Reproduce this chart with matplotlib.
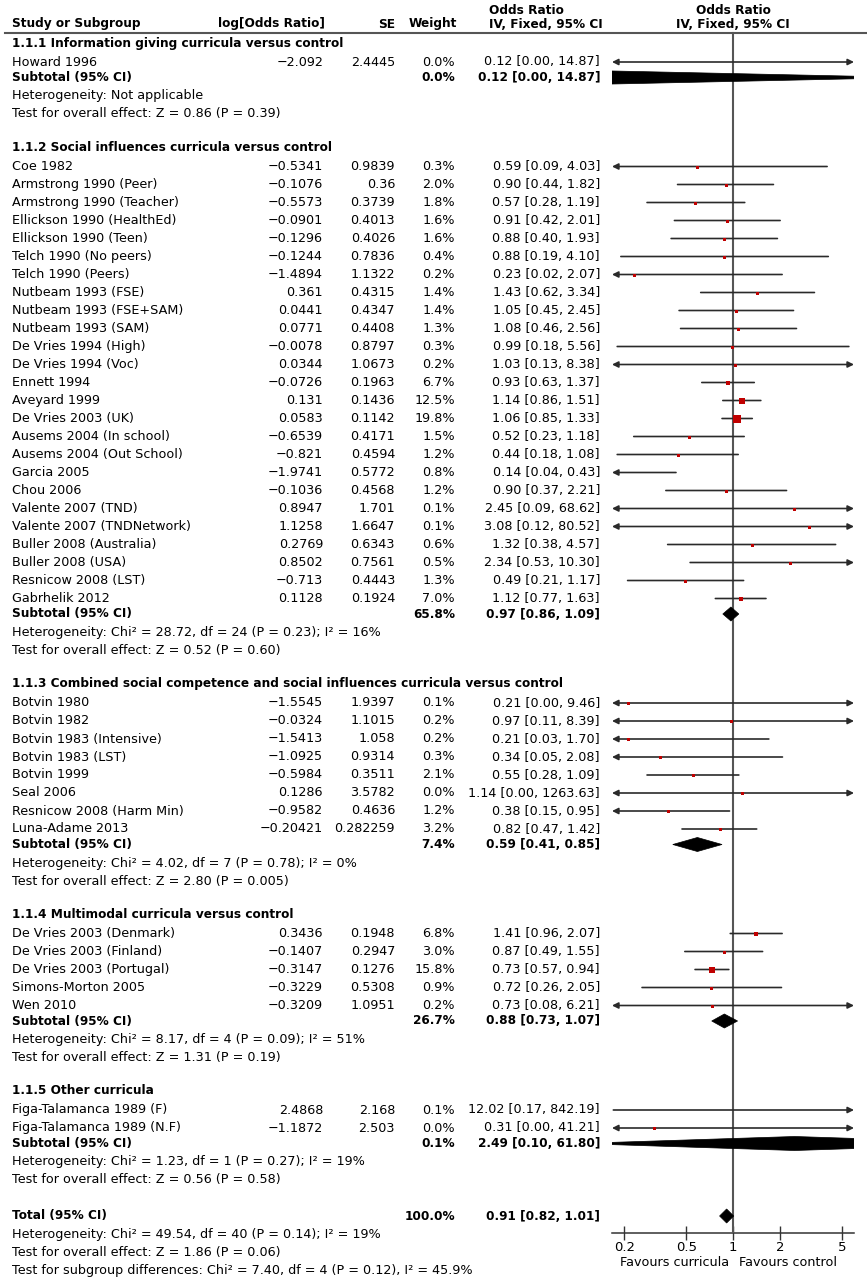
import matplotlib.pyplot as plt
from matplotlib.patches import Polygon

# ---- data ----
group_titles = [
    "1.1.1 Information giving curricula versus control",
    "1.1.2 Social influences curricula versus control",
    "1.1.3 Combined social competence and social influences curricula versus control",
    "1.1.4 Multimodal curricula versus control",
    "1.1.5 Other curricula",
]

g1_names = ["Howard 1996"]
g1_logor = ["\u22122.092"]
g1_se = ["2.4445"]
g1_weight = [0.0]
g1_or = [0.12]
g1_lo = [0.00]
g1_hi = [14.87]

g2_names = ["Coe 1982", "Armstrong 1990 (Peer)", "Armstrong 1990 (Teacher)",
            "Ellickson 1990 (HealthEd)", "Ellickson 1990 (Teen)", "Telch 1990 (No peers)",
            "Telch 1990 (Peers)", "Nutbeam 1993 (FSE)", "Nutbeam 1993 (FSE+SAM)",
            "Nutbeam 1993 (SAM)", "De Vries 1994 (High)", "De Vries 1994 (Voc)",
            "Ennett 1994", "Aveyard 1999", "De Vries 2003 (UK)", "Ausems 2004 (In school)",
            "Ausems 2004 (Out School)", "Garcia 2005", "Chou 2006", "Valente 2007 (TND)",
            "Valente 2007 (TNDNetwork)", "Buller 2008 (Australia)", "Buller 2008 (USA)",
            "Resnicow 2008 (LST)", "Gabrhelik 2012"]
g2_logor = ["\u22120.5341", "\u22120.1076", "\u22120.5573", "\u22120.0901", "\u22120.1296",
            "\u22120.1244", "\u22121.4894", "0.361", "0.0441", "0.0771", "\u22120.0078",
            "0.0344", "\u22120.0726", "0.131", "0.0583", "\u22120.6539", "\u22120.821",
            "\u22121.9741", "\u22120.1036", "0.8947", "1.1258", "0.2769", "0.8502",
            "\u22120.713", "0.1128"]
g2_se = ["0.9839", "0.36", "0.3739", "0.4013", "0.4026", "0.7836", "1.1322", "0.4315",
         "0.4347", "0.4408", "0.8797", "1.0673", "0.1963", "0.1436", "0.1142", "0.4171",
         "0.4594", "0.5772", "0.4568", "1.701", "1.6647", "0.6343", "0.7561", "0.4443",
         "0.1924"]
g2_weight = [0.3, 2.0, 1.8, 1.6, 1.6, 0.4, 0.2, 1.4, 1.4, 1.3, 0.3, 0.2, 6.7, 12.5, 19.8,
             1.5, 1.2, 0.8, 1.2, 0.1, 0.1, 0.6, 0.5, 1.3, 7.0]
g2_or = [0.59, 0.90, 0.57, 0.91, 0.88, 0.88, 0.23, 1.43, 1.05, 1.08, 0.99, 1.03, 0.93, 1.14,
         1.06, 0.52, 0.44, 0.14, 0.90, 2.45, 3.08, 1.32, 2.34, 0.49, 1.12]
g2_lo = [0.09, 0.44, 0.28, 0.42, 0.40, 0.19, 0.02, 0.62, 0.45, 0.46, 0.18, 0.13, 0.63, 0.86,
         0.85, 0.23, 0.18, 0.04, 0.37, 0.09, 0.12, 0.38, 0.53, 0.21, 0.77]
g2_hi = [4.03, 1.82, 1.19, 2.01, 1.93, 4.10, 2.07, 3.34, 2.45, 2.56, 5.56, 8.38, 1.37, 1.51,
         1.33, 1.18, 1.08, 0.43, 2.21, 68.62, 80.52, 4.57, 10.30, 1.17, 1.63]

g3_names = ["Botvin 1980", "Botvin 1982", "Botvin 1983 (Intensive)", "Botvin 1983 (LST)",
            "Botvin 1999", "Seal 2006", "Resnicow 2008 (Harm Min)", "Luna-Adame 2013"]
g3_logor = ["\u22121.5545", "\u22120.0324", "\u22121.5413", "\u22121.0925", "\u22120.5984",
            "0.1286", "\u22120.9582", "\u22120.20421"]
g3_se = ["1.9397", "1.1015", "1.058", "0.9314", "0.3511", "3.5782", "0.4636", "0.282259"]
g3_weight = [0.1, 0.2, 0.2, 0.3, 2.1, 0.0, 1.2, 3.2]
g3_or = [0.21, 0.97, 0.21, 0.34, 0.55, 1.14, 0.38, 0.82]
g3_lo = [0.00, 0.11, 0.03, 0.05, 0.28, 0.00, 0.15, 0.47]
g3_hi = [9.46, 8.39, 1.70, 2.08, 1.09, 1263.63, 0.95, 1.42]

g4_names = ["De Vries 2003 (Denmark)", "De Vries 2003 (Finland)", "De Vries 2003 (Portugal)",
            "Simons-Morton 2005", "Wen 2010"]
g4_logor = ["0.3436", "\u22120.1407", "\u22120.3147", "\u22120.3229", "\u22120.3209"]
g4_se = ["0.1948", "0.2947", "0.1276", "0.5308", "1.0951"]
g4_weight = [6.8, 3.0, 15.8, 0.9, 0.2]
g4_or = [1.41, 0.87, 0.73, 0.72, 0.73]
g4_lo = [0.96, 0.49, 0.57, 0.26, 0.08]
g4_hi = [2.07, 1.55, 0.94, 2.05, 6.21]

g5_names = ["Figa-Talamanca 1989 (F)", "Figa-Talamanca 1989 (N.F)"]
g5_logor = ["2.4868", "\u22121.1872"]
g5_se = ["2.168", "2.503"]
g5_weight = [0.1, 0.0]
g5_or = [12.02, 0.31]
g5_lo = [0.17, 0.00]
g5_hi = [842.19, 41.21]

sub_weight = [0.0, 65.8, 7.4, 26.7, 0.1]
sub_or = [0.12, 0.97, 0.59, 0.88, 2.49]
sub_lo = [0.00, 0.86, 0.41, 0.73, 0.10]
sub_hi = [14.87, 1.09, 0.85, 1.07, 61.80]
sub_het = [
    "Heterogeneity: Not applicable",
    "Heterogeneity: Chi\u00b2 = 28.72, df = 24 (P = 0.23); I\u00b2 = 16%",
    "Heterogeneity: Chi\u00b2 = 4.02, df = 7 (P = 0.78); I\u00b2 = 0%",
    "Heterogeneity: Chi\u00b2 = 8.17, df = 4 (P = 0.09); I\u00b2 = 51%",
    "Heterogeneity: Chi\u00b2 = 1.23, df = 1 (P = 0.27); I\u00b2 = 19%",
]
sub_test = [
    "Test for overall effect: Z = 0.86 (P = 0.39)",
    "Test for overall effect: Z = 0.52 (P = 0.60)",
    "Test for overall effect: Z = 2.80 (P = 0.005)",
    "Test for overall effect: Z = 1.31 (P = 0.19)",
    "Test for overall effect: Z = 0.56 (P = 0.58)",
]

total_weight = 100.0
total_or = 0.91
total_lo = 0.82
total_hi = 1.01
total_notes = [
    "Heterogeneity: Chi\u00b2 = 49.54, df = 40 (P = 0.14); I\u00b2 = 19%",
    "Test for overall effect: Z = 1.86 (P = 0.06)",
    "Test for subgroup differences: Chi\u00b2 = 7.40, df = 4 (P = 0.12), I\u00b2 = 45.9%",
]

xticks = [0.2, 0.5, 1, 2, 5]
xtick_labels = ["0.2", "0.5", "1", "2", "5"]

groups = [
    (g1_names, g1_logor, g1_se, g1_weight, g1_or, g1_lo, g1_hi),
    (g2_names, g2_logor, g2_se, g2_weight, g2_or, g2_lo, g2_hi),
    (g3_names, g3_logor, g3_se, g3_weight, g3_or, g3_lo, g3_hi),
    (g4_names, g4_logor, g4_se, g4_weight, g4_or, g4_lo, g4_hi),
    (g5_names, g5_logor, g5_se, g5_weight, g5_or, g5_lo, g5_hi),
]

# ---- layout / style ----
W, H = 867, 1280
FS = 9.2
FSB = 8.7
XMIN, XMAX = 1 / 6, 6
X_NAME, X_LOG, X_SE, X_W, X_CI = 12, 323, 395, 455, 600
LINE_C = "#2a2a2a"
SQ_C = "#c00000"

plt.rcParams['font.family'] = ['DejaVu Sans']

fig = plt.figure(figsize=(W / 100, H / 100), dpi=100)
tax = fig.add_axes([0, 0, 1, 1])
tax.set_xlim(0, W)
tax.set_ylim(H, 0)
tax.axis('off')

axis_y = 1233
fax = fig.add_axes([612 / W, (H - axis_y) / H, 242 / W, axis_y / H])
fax.set_xscale('log')
fax.set_xlim(XMIN, XMAX)
fax.set_ylim(axis_y, 0)
fax.patch.set_alpha(0)
for s in ['top', 'left', 'right']:
    fax.spines[s].set_visible(False)
fax.spines['bottom'].set_color('#333333')
fax.spines['bottom'].set_linewidth(1.1)
fax.set_xticks(xticks)
fax.set_xticklabels(xtick_labels, fontsize=9.5)
fax.minorticks_off()
fax.tick_params(axis='x', direction='inout', length=10, width=1, color='#333333', pad=1)
fax.set_yticks([])


def txt(x, y, s, ha='left', bold=False):
    tax.text(x, y, s, ha=ha, va='center', fontsize=FSB if bold else FS,
             fontweight='bold' if bold else 'normal', color='black')


def ci_str(o, lo, hi):
    return "%.2f [%.2f, %.2f]" % (o, lo, hi)


def study_line(y, o, lo, hi, w):
    x0 = max(lo, XMIN)
    x1 = min(hi, XMAX)
    left = lo < XMIN
    right = hi > XMAX
    style = {(True, True): '<|-|>', (True, False): '<|-',
             (False, True): '-|>', (False, False): '-'}[(left, right)]
    fax.annotate('', xy=(x1, y), xytext=(x0, y), annotation_clip=False,
                 arrowprops=dict(arrowstyle=style, color=LINE_C, lw=1.2,
                                 shrinkA=0, shrinkB=0, mutation_scale=9))
    side_px = max(3.0, 7.2 * (w / 19.8) ** 0.5)
    fax.plot([o], [y], 's', ms=side_px * 0.72, color=SQ_C, mec=SQ_C, mew=0,
             zorder=5, clip_on=True)


def diamond(y, o, lo, hi, half=7):
    lo = max(lo, 0.001)
    poly = Polygon([(lo, y), (o, y - half), (hi, y), (o, y + half)], closed=True,
                   facecolor='black', edgecolor='black', lw=0.5, zorder=4)
    fax.add_patch(poly)


# header
tax.text(489, 10, "Odds Ratio", ha='left', va='center', fontsize=FSB, fontweight='bold')
tax.text(733, 10, "Odds Ratio", ha='center', va='center', fontsize=FSB, fontweight='bold')
hy = 24
txt(X_NAME, hy, "Study or Subgroup", bold=True)
txt(X_LOG + 2, hy, "log[Odds Ratio]", ha='right', bold=True)
txt(X_SE, hy, "SE", ha='right', bold=True)
txt(X_W + 2, hy, "Weight", ha='right', bold=True)
txt(489, hy, "IV, Fixed, 95% CI", bold=True)
txt(733, hy, "IV, Fixed, 95% CI", ha='center', bold=True)
tax.axhline(33, xmin=5 / W, xmax=1, color='#555555', lw=1.5)

# vertical reference line
fax.axvline(1, ymin=0, ymax=(axis_y - 33) / axis_y, color='#555555', lw=1.5, zorder=3)

y = 43
for gi, (names, logor, se, wts, ors, los, his) in enumerate(groups):
    txt(X_NAME, y, group_titles[gi], bold=True)
    y += 19
    for i in range(len(names)):
        txt(X_NAME, y, names[i])
        txt(X_LOG, y, logor[i], ha='right')
        txt(X_SE, y, se[i], ha='right')
        txt(X_W, y, "%.1f%%" % wts[i], ha='right')
        txt(X_CI, y, ci_str(ors[i], los[i], his[i]), ha='right')
        study_line(y, ors[i], los[i], his[i], wts[i])
        y += 18
    y = y - 18 + 15.5
    txt(X_NAME, y, "Subtotal (95% CI)", bold=True)
    txt(X_W, y, "%.1f%%" % sub_weight[gi], ha='right', bold=True)
    txt(X_CI, y, ci_str(sub_or[gi], sub_lo[gi], sub_hi[gi]), ha='right', bold=True)
    diamond(y, sub_or[gi], sub_lo[gi], sub_hi[gi])
    y += 18.5
    txt(X_NAME, y, sub_het[gi])
    y += 18
    txt(X_NAME, y, sub_test[gi])
    y += 33.5

y = y - 33.5 + 36
txt(X_NAME, y, "Total (95% CI)", bold=True)
txt(X_W, y, "%.1f%%" % total_weight, ha='right', bold=True)
txt(X_CI, y, ci_str(total_or, total_lo, total_hi), ha='right', bold=True)
diamond(y, total_or, total_lo, total_hi)
for note in total_notes:
    y += 18.3
    txt(X_NAME, y, note)

tax.text(729, 1262, "Favours curricula", ha='right', va='center', fontsize=FS)
tax.text(739, 1262, "Favours control", ha='left', va='center', fontsize=FS)

fig.savefig("out.png", dpi=100)
